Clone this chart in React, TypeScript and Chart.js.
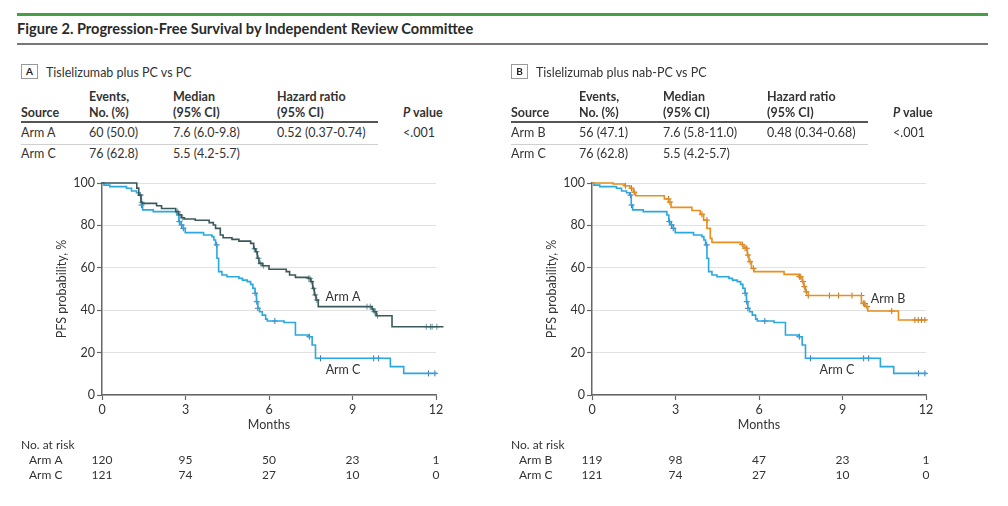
import React, { useEffect, useRef } from "react";
import { Chart, registerables } from "chart.js";

Chart.register(...registerables);

const FONT = 'Lato, "Open Sans", sans-serif';

// ---------- text data ----------
const figureTitle = "Figure 2. Progression-Free Survival by Independent Review Committee";
const panelATitle = "Tislelizumab plus PC vs PC";
const panelBTitle = "Tislelizumab plus nab-PC vs PC";
const tableHeaderTop = ["", "Events,", "Median", "Hazard ratio", ""];
const tableHeaderBottom = ["Source", "No. (%)", "(95% CI)", "(95% CI)", "P value"];
const panelARows = [
  ["Arm A", "60 (50.0)", "7.6 (6.0-9.8)", "0.52 (0.37-0.74)", "<.001"],
  ["Arm C", "76 (62.8)", "5.5 (4.2-5.7)", "", ""],
];
const panelBRows = [
  ["Arm B", "56 (47.1)", "7.6 (5.8-11.0)", "0.48 (0.34-0.68)", "<.001"],
  ["Arm C", "76 (62.8)", "5.5 (4.2-5.7)", "", ""],
];

// ---------- axis ticks ----------
const monthTicks = [0, 3, 6, 9, 12];
const yTicks = [0, 20, 40, 60, 80, 100];

// ---------- number at risk ----------
const riskA_ArmA = [120, 95, 50, 23, 1];
const riskA_ArmC = [121, 74, 27, 10, 0];
const riskB_ArmB = [119, 98, 47, 23, 1];
const riskB_ArmC = [121, 74, 27, 10, 0];

// ---------- KM curves ----------
const armATimes = [0, 1.25, 1.32, 1.4, 1.45, 1.96, 2.14, 2.65, 2.75, 2.85, 2.95, 3.35, 3.85, 4.0, 4.08, 4.25, 4.35, 4.67, 4.92, 5.34, 5.45, 5.52, 5.58, 5.64, 5.76, 6.0, 6.62, 6.74, 6.95, 7.41, 7.5, 7.57, 7.63, 7.69, 7.77, 9.7, 9.76, 9.85, 10.42, 12.27];
const armASurv = [100, 97.6, 94.3, 90.9, 90.4, 89.3, 88, 86.5, 85, 83.6, 83, 82.4, 81.3, 80.2, 78.6, 75.5, 74.2, 73.4, 72.6, 71.5, 69, 67.6, 64.5, 62.1, 61, 59.3, 58.2, 56.6, 55.5, 55, 53.5, 50.3, 47.2, 44.8, 41.7, 40.6, 39.3, 37.4, 32.2, 32.2];
const armACensorTimes = [1.38, 1.43, 2.72, 2.8, 2.9, 5.48, 5.55, 5.62, 5.7, 5.8, 7.43, 7.47, 7.52, 7.6, 7.66, 7.72, 9.52, 9.64, 9.72, 9.78, 9.82, 9.9, 11.65, 11.8, 11.86, 12.03, 12.27];
const armACensorSurv = [94.3, 90.9, 86.5, 85, 83.6, 69, 67.6, 64.5, 62.1, 61, 55, 55, 53.5, 50.3, 47.2, 44.8, 41.7, 41.7, 40.6, 39.3, 39.3, 37.4, 32.2, 32.2, 32.2, 32.2, 32.2];

const armCTimes = [0, 0.07, 0.28, 0.88, 1.06, 1.24, 1.36, 1.41, 1.46, 1.84, 2.69, 2.76, 2.84, 2.92, 2.99, 3.65, 3.95, 4.02, 4.08, 4.13, 4.19, 4.31, 4.49, 4.92, 5.05, 5.22, 5.34, 5.42, 5.5, 5.55, 5.6, 5.66, 5.76, 5.88, 5.94, 6.54, 6.95, 7.41, 7.55, 7.67, 10.36, 10.84, 12.03];
const armCSurv = [100, 99, 98.3, 97.5, 96.2, 95.4, 94.3, 89.6, 87.3, 86.5, 84.9, 81.8, 80.2, 78.6, 76.6, 75.5, 74.7, 73.1, 70.8, 64.5, 58.2, 56.6, 55.8, 55, 54.2, 53.5, 52.2, 50.3, 48, 44, 40.9, 39.3, 37.7, 35.8, 34.9, 34.2, 28.3, 27.5, 23.6, 17.3, 13.4, 10.2, 10.2];
const armCCensorTimes = [1.38, 1.42, 2.78, 2.86, 2.92, 4.12, 5.5, 5.56, 5.6, 6.21, 7.45, 7.85, 9.76, 9.94, 11.73, 11.96];
const armCCensorSurv = [94.3, 89.6, 81.8, 80.2, 78.6, 70.8, 48, 44, 40.9, 34.9, 27.5, 17.3, 17.3, 17.3, 10.2, 10.2];

const armBTimes = [0, 0.76, 1.18, 1.36, 1.48, 1.57, 2.6, 2.75, 2.84, 3.59, 3.89, 4.01, 4.13, 4.25, 4.31, 5.34, 5.46, 5.58, 5.64, 5.73, 5.82, 6.9, 7.43, 7.55, 7.61, 7.67, 7.77, 9.68, 9.82, 9.91, 11.01, 12.03];
const armBSurv = [100, 99.5, 98.7, 97.5, 95.6, 94, 92.5, 91, 88.5, 87, 85.2, 82.5, 78.6, 73.9, 72, 71, 69.2, 66, 62.9, 59.7, 58.2, 56.9, 55.8, 53.5, 51.1, 48.7, 46.9, 43.2, 41.7, 39.6, 35.4, 35.4];
const armBCensorTimes = [1.2, 1.42, 1.52, 2.75, 2.8, 3.95, 4.13, 5.4, 5.5, 5.56, 5.6, 5.68, 5.8, 7.45, 7.5, 7.58, 7.63, 7.7, 7.77, 8.53, 8.86, 9.34, 9.68, 9.75, 9.8, 9.88, 10.77, 11.6, 11.72, 11.84, 11.96];
const armBCensorSurv = [98.7, 97.5, 95.6, 92.5, 91, 85.2, 82.5, 71, 69.2, 69.2, 66, 62.9, 59.7, 55.8, 55.8, 53.5, 51.1, 48.7, 46.9, 46.9, 46.9, 46.9, 46.9, 43.2, 43.2, 41.7, 39.6, 35.4, 35.4, 35.4, 35.4];

// ---------- styling ----------
const COLOR_A = "#3b585b";
const COLOR_A_MARK = "#6c9aa2";
const COLOR_C = "#2aa8e0";
const COLOR_C_MARK = "#4d6aa8";
const COLOR_B = "#e88f1c";
const COLOR_B_MARK = "#b9701e";
const TEXT = "#333";

const toPts = (xs: number[], ys: number[]) => xs.map((x, i) => ({ x, y: ys[i] }));

type ArmSpec = {
  name: string;
  times: number[];
  surv: number[];
  cTimes: number[];
  cSurv: number[];
  color: string;
  mark: string;
  labelX: number;
  labelY: number;
  risk: number[];
};

function KMChart({ arms }: { arms: ArmSpec[] }) {
  const ref = useRef<HTMLCanvasElement | null>(null);
  useEffect(() => {
    if (!ref.current) return;
    const datasets: any[] = [];
    arms.forEach((a) => {
      datasets.push({
        data: toPts(a.times, a.surv),
        borderColor: a.color,
        borderWidth: 1.6,
        stepped: true,
        pointRadius: 0,
        fill: false,
        clip: false,
      });
      datasets.push({
        data: toPts(a.cTimes, a.cSurv),
        showLine: false,
        pointStyle: "cross",
        pointRadius: 3,
        pointBorderColor: a.mark,
        pointBorderWidth: 1,
        clip: false,
      });
    });
    const extras = {
      id: "extras",
      afterDraw(chart: any) {
        const ctx = chart.ctx;
        const xs = chart.scales.x;
        const ys = chart.scales.y;
        const area = chart.chartArea;
        ctx.save();
        ctx.fillStyle = TEXT;
        ctx.font = `12.5px ${FONT}`;
        ctx.textAlign = "center";
        ctx.textBaseline = "middle";
        arms.forEach((a) => {
          ctx.fillText(a.name, xs.getPixelForValue(a.labelX), ys.getPixelForValue(a.labelY));
        });
        ctx.fillText("Months", (area.left + area.right) / 2, 265);
        ctx.save();
        ctx.translate(62, (area.top + area.bottom) / 2);
        ctx.rotate(-Math.PI / 2);
        ctx.fillText("PFS probability, %", 0, 0);
        ctx.restore();
        ctx.font = `12px ${FONT}`;
        ctx.textAlign = "left";
        ctx.fillText("No. at risk", 21, 285);
        arms.forEach((a, r) => {
          const y = 300 + r * 15;
          ctx.textAlign = "left";
          ctx.fillText(a.name, 29, y);
          ctx.textAlign = "center";
          a.risk.forEach((v, i) => {
            ctx.fillText(String(v), xs.getPixelForValue(monthTicks[i]), y);
          });
        });
        ctx.restore();
      },
    };
    const chart = new Chart(ref.current, {
      type: "line",
      data: { datasets },
      plugins: [extras],
      options: {
        animation: false,
        responsive: false,
        layout: { padding: { left: 40, right: 64, top: 23, bottom: 75 } },
        plugins: { legend: { display: false }, tooltip: { enabled: false } },
        scales: {
          x: {
            type: "linear",
            min: 0,
            max: 12,
            afterFit: (s: any) => {
              s.height = 30;
            },
            afterBuildTicks: (s: any) => {
              s.ticks = monthTicks.map((v) => ({ value: v }));
            },
            ticks: { color: TEXT, font: { family: FONT, size: 12.5 }, padding: 2, maxRotation: 0 },
            grid: { drawOnChartArea: false, tickColor: "#666", tickLength: 5, tickWidth: 1.2 },
            border: { color: "#666", width: 1.5 },
          },
          y: {
            min: 0,
            max: 100,
            afterFit: (s: any) => {
              s.width = 62;
            },
            afterBuildTicks: (s: any) => {
              s.ticks = yTicks.map((v) => ({ value: v }));
            },
            ticks: { color: TEXT, font: { family: FONT, size: 12.5 }, padding: 2 },
            grid: { color: "#e2e2e2", lineWidth: 1, tickColor: "#666", tickLength: 5, tickWidth: 1.2 },
            border: { color: "#666", width: 1.5 },
          },
        },
      } as any,
    });
    return () => chart.destroy();
  }, []);
  return <canvas ref={ref} width={500} height={340} style={{ position: "absolute", left: 0, top: 160, width: 500, height: 340 }} />;
}

const colX = [21, 89, 173, 277, 403];

function Txt({ x, y, children, bold }: any) {
  return (
    <div
      style={{
        position: "absolute",
        left: x,
        top: y,
        transform: "translateY(-50%)",
        lineHeight: "14px",
        fontSize: 12.5,
        fontWeight: bold ? 700 : 400,
        color: TEXT,
        whiteSpace: "nowrap",
      }}
    >
      {children}
    </div>
  );
}

function Panel({ left, letter, title, rows, arms }: any) {
  return (
    <div style={{ position: "absolute", left, top: 0, width: 500, height: 506 }}>
      <div
        style={{
          position: "absolute",
          left: 21,
          top: 64,
          width: 17,
          height: 15,
          border: "1px solid #999",
          boxSizing: "border-box",
          fontSize: 10,
          fontWeight: 700,
          lineHeight: "13px",
          textAlign: "center",
          color: "#222",
        }}
      >
        {letter}
      </div>
      <div style={{ position: "absolute", left: 46, top: 72, transform: "translateY(-50%)", fontSize: 12.5, lineHeight: "15px", color: TEXT, whiteSpace: "nowrap" }}>
        {title}
      </div>
      {tableHeaderTop.map((h, i) => (h ? <Txt key={"ht" + i} x={colX[i]} y={96.5} bold>{h}</Txt> : null))}
      {tableHeaderBottom.map((h, i) => (
        <Txt key={"hb" + i} x={colX[i]} y={112.5} bold>
          {i === 4 ? (
            <span>
              <i>P</i> value
            </span>
          ) : (
            h
          )}
        </Txt>
      ))}
      <div style={{ position: "absolute", left: 21, top: 121.3, width: 357, height: 1.5, background: "#555" }} />
      {rows[0].map((c: string, i: number) => (c ? <Txt key={"r0" + i} x={colX[i]} y={133}>{c}</Txt> : null))}
      <div style={{ position: "absolute", left: 21, top: 143.5, width: 357, height: 1, background: "#d0d0d0" }} />
      {rows[1].map((c: string, i: number) => (c ? <Txt key={"r1" + i} x={colX[i]} y={154}>{c}</Txt> : null))}
      <KMChart arms={arms} />
    </div>
  );
}

export default function App() {
  const armsA: ArmSpec[] = [
    { name: "Arm A", times: armATimes, surv: armASurv, cTimes: armACensorTimes, cSurv: armACensorSurv, color: COLOR_A, mark: COLOR_A_MARK, labelX: 8.66, labelY: 46.4, risk: riskA_ArmA },
    { name: "Arm C", times: armCTimes, surv: armCSurv, cTimes: armCCensorTimes, cSurv: armCCensorSurv, color: COLOR_C, mark: COLOR_C_MARK, labelX: 8.66, labelY: 11.8, risk: riskA_ArmC },
  ];
  const armsB: ArmSpec[] = [
    { name: "Arm B", times: armBTimes, surv: armBSurv, cTimes: armBCensorTimes, cSurv: armBCensorSurv, color: COLOR_B, mark: COLOR_B_MARK, labelX: 10.64, labelY: 45.3, risk: riskB_ArmB },
    { name: "Arm C", times: armCTimes, surv: armCSurv, cTimes: armCCensorTimes, cSurv: armCCensorSurv, color: COLOR_C, mark: COLOR_C_MARK, labelX: 8.8, labelY: 11.8, risk: riskB_ArmC },
  ];
  return (
    <div style={{ position: "fixed", left: 0, top: 0, width: 1008, height: 506, background: "#fff", overflow: "hidden", fontFamily: FONT }}>
      <div style={{ position: "absolute", left: 17, top: 12.5, width: 971, height: 3, background: "#45a045" }} />
      <div style={{ position: "absolute", left: 17, top: 29, transform: "translateY(-50%)", fontSize: 14.6, lineHeight: "18px", fontWeight: 700, color: "#2a2a2a", whiteSpace: "nowrap" }}>
        {figureTitle}
      </div>
      <div style={{ position: "absolute", left: 17, top: 43, width: 971, height: 1.5, background: "#777" }} />
      <Panel left={0} letter="A" title={panelATitle} rows={panelARows} arms={armsA} />
      <Panel left={490} letter="B" title={panelBTitle} rows={panelBRows} arms={armsB} />
    </div>
  );
}
